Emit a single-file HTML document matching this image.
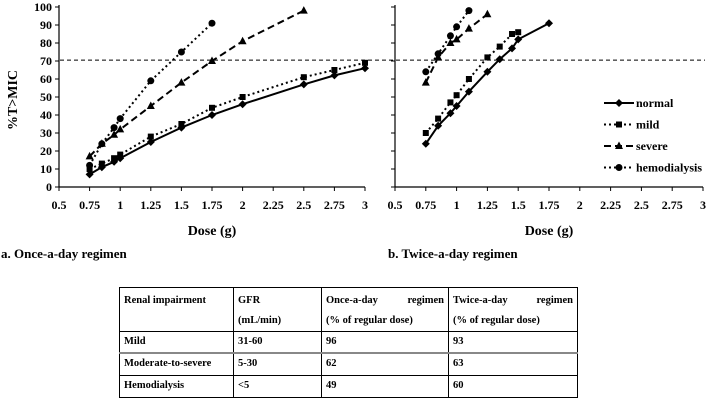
<!DOCTYPE html>
<html><head><meta charset="utf-8"><style>
body{margin:0;background:#fff;width:713px;height:402px;overflow:hidden;position:relative;font-family:"Liberation Serif",serif}
svg{position:absolute;left:0;top:0}
text{font-family:"Liberation Serif",serif;font-weight:bold;fill:#000}
table{position:absolute;left:119px;top:287px;border-collapse:collapse;table-layout:fixed;width:458px;font-family:"Liberation Serif",serif;font-weight:bold;font-size:10.5px}
td{border:1px solid #000;padding:0 4px;vertical-align:top;white-space:nowrap;overflow:hidden;line-height:20px}
tr.mild td{border-bottom:2px solid #888}
.j{display:flex;justify-content:space-between}
</style></head><body>
<svg id="c" width="713" height="402"></svg>
<table>
<colgroup><col style="width:114px"><col style="width:88px"><col style="width:127px"><col style="width:129px"></colgroup>
<tr style="height:44px"><td style="padding-top:3px">Renal impairment</td><td style="padding-top:3px">GFR<br>(mL/min)</td><td style="padding-top:3px"><div class="j"><span>Once-a-day</span><span>regimen</span></div>(% of regular dose)</td><td style="padding-top:3px"><div class="j"><span>Twice-a-day</span><span>regimen</span></div>(% of regular dose)</td></tr>
<tr class="mild" style="height:21px"><td>Mild</td><td>31-60</td><td>96</td><td>93</td></tr>
<tr style="height:22px"><td>Moderate-to-severe</td><td>5-30</td><td>62</td><td>63</td></tr>
<tr style="height:22px"><td>Hemodialysis</td><td>&lt;5</td><td>49</td><td>60</td></tr>
</table>
<script>
const xTicks=[0.5,0.75,1,1.25,1.5,1.75,2,2.25,2.5,2.75,3];
const yTicks=[0,10,20,30,40,50,60,70,80,90,100];
const seriesNames=["normal","mild","severe","hemodialysis"];
const onceNormalX=[0.75,0.85,0.95,1,1.25,1.5,1.75,2,2.5,2.75,3];
const onceNormalY=[7,11,14,16,25,33,40,46,57,62,66];
const onceMildX=[0.75,0.85,0.95,1,1.25,1.5,1.75,2,2.5,2.75,3];
const onceMildY=[10,13,16,18,28,35,44,50,61,65,69];
const onceSevereX=[0.75,0.85,0.95,1,1.25,1.5,1.75,2,2.5];
const onceSevereY=[17,24,29,32,45,58,70,81,98];
const onceHemoX=[0.75,0.85,0.95,1,1.25,1.5,1.75];
const onceHemoY=[12,24,33,38,59,75,91];
const twiceNormalX=[0.75,0.85,0.95,1,1.1,1.25,1.35,1.45,1.5,1.75];
const twiceNormalY=[24,34,41,45,53,64,71,77,82,91];
const twiceMildX=[0.75,0.85,0.95,1,1.1,1.25,1.35,1.45,1.5];
const twiceMildY=[30,38,47,51,60,72,78,85,86];
const twiceSevereX=[0.75,0.85,0.95,1,1.1,1.25];
const twiceSevereY=[58,72,80,82,88,96];
const twiceHemoX=[0.75,0.85,0.95,1,1.1];
const twiceHemoY=[64,74,84,89,98];
const threshold=70.5;
const svg=document.getElementById('c');const NS='http://www.w3.org/2000/svg';
function el(t,a,p){const e=document.createElementNS(NS,t);for(const k in a)e.setAttribute(k,a[k]);(p||svg).appendChild(e);return e;}
const styles=[{d:'',m:'diamond'},{d:'2,3',m:'square'},{d:'7,4',m:'tri'},{d:'2,3',m:'circle'}];
function marker(g,m,x,y){
 if(m==='diamond')return el('polygon',{points:`${x},${y-4} ${x+4},${y} ${x},${y+4} ${x-4},${y}`},g);
 if(m==='square')return el('rect',{x:x-3,y:y-3,width:6,height:6},g);
 if(m==='tri')return el('polygon',{points:`${x},${y-4.5} ${x+4},${y+3} ${x-4},${y+3}`},g);
 return el('circle',{cx:x,cy:y,r:3.5},g);
}
const y0=187,y100=7;
function ys(v){return y0+(y100-y0)*v/100;}
function drawChart(name,x05,x3,data,showY){
 const xs=v=>x05+(x3-x05)*(v-0.5)/2.5;
 const g=el('g',{});
 
 
 el('line',{x1:x05,y1:y100-2,x2:x05,y2:y0,stroke:'#000','stroke-width':1.2},g);
 el('line',{x1:x05,y1:y0,x2:x3,y2:y0,stroke:'#000','stroke-width':1.2},g);
 yTicks.forEach(v=>{el('line',{x1:x05-4,y1:ys(v),x2:x05,y2:ys(v),stroke:'#000'},g);
  if(showY){const t=el('text',{x:x05-7,y:ys(v)+4,'text-anchor':'end','font-size':12},g);t.textContent=v;}});
 xTicks.forEach(v=>{el('line',{x1:xs(v),y1:y0,x2:xs(v),y2:y0+4,stroke:'#000'},g);
  const t=el('text',{x:xs(v),y:y0+22,'text-anchor':'middle','font-size':12},g);t.textContent=v;});
 data.forEach((s,i)=>{const st=styles[i];
  const sg=el('g',{},g);
  
  
  el('polyline',{points:s[0].map((x,j)=>xs(x)+','+ys(s[1][j])).join(' '),fill:'none',stroke:'#000','stroke-width':2,'stroke-dasharray':st.d},sg);
  s[0].forEach((x,j)=>{const mk=marker(sg,st.m,xs(x),ys(s[1][j]));
   
   });
 });
 const t=el('text',{x:(x05+x3)/2,y:235,'text-anchor':'middle','font-size':14},g);t.textContent='Dose (g)';
 
 
 return xs;
}
drawChart('once-a-day-chart',59,365,[[onceNormalX,onceNormalY],[onceMildX,onceMildY],[onceSevereX,onceSevereY],[onceHemoX,onceHemoY]],true);
drawChart('twice-a-day-chart',395,703,[[twiceNormalX,twiceNormalY],[twiceMildX,twiceMildY],[twiceSevereX,twiceSevereY],[twiceHemoX,twiceHemoY]],false);
const th=el('line',{x1:60,y1:ys(threshold),x2:705,y2:ys(threshold),stroke:'#000','stroke-width':1,'stroke-dasharray':'4,3'});


const yl=el('text',{x:0,y:0,transform:'translate(17,100) rotate(-90)','text-anchor':'middle','font-size':14});yl.textContent='%T>MIC';


const ca=el('text',{x:1,y:258,'font-size':13});ca.textContent='a. Once-a-day regimen';


const cb=el('text',{x:388,y:258,'font-size':13});cb.textContent='b. Twice-a-day regimen';


seriesNames.forEach((n,i)=>{const y=103+i*21.5;const st=styles[i];
 const g=el('g',{});
 
 
 el('line',{x1:604,y1:y,x2:634,y2:y,stroke:'#000','stroke-width':2,'stroke-dasharray':st.d},g);
 marker(g,st.m,619,y);
 const t=el('text',{x:636,y:y+4,'font-size':12},g);t.textContent=n;});
</script>
</body></html>
